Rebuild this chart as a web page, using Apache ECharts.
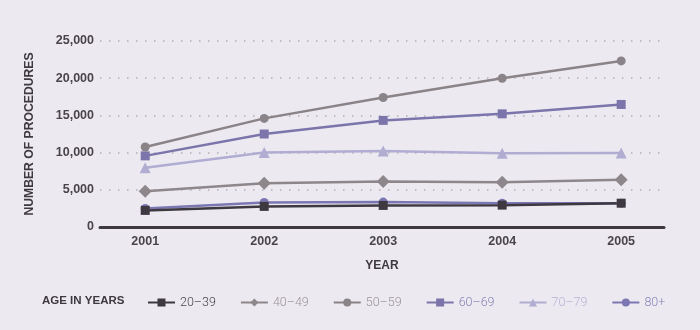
<!DOCTYPE html>
<html>
<head>
<meta charset="utf-8">
<script src="https://cdn.jsdelivr.net/npm/echarts@6/dist/echarts.min.js"></script>
<style>
  html, body { margin: 0; padding: 0; background: #eceaf0; }
  #chart { width: 700px; height: 330px; }
</style>
</head>
<body>
<div id="chart"></div>
<script>
// Procedures per year, by age group
const years = [2001, 2002, 2003, 2004, 2005];
const yTicks = [0, 5000, 10000, 15000, 20000, 25000];

const age20to39 = [2230, 2770, 2900, 2940, 3200];
const age40to49 = [4820, 5890, 6110, 6020, 6340];
const age50to59 = [10760, 14600, 17410, 20000, 22320];
const age60to69 = [9560, 12500, 14330, 15210, 16470];
const age70to79 = [7950, 10000, 10230, 9920, 9960];
const age80plus = [2500, 3300, 3350, 3200, 3200];

const groups = [
  { name: '20\u201339', values: age20to39, color: '#3e3840', text: '#4a444c', symbol: 'rect', size: 9 },
  { name: '40\u201349', values: age40to49, color: '#8d868b', text: '#9a9398', symbol: 'diamond', size: 13 },
  { name: '50\u201359', values: age50to59, color: '#8a8388', text: '#9a9398', symbol: 'circle', size: 9 },
  { name: '60\u201369', values: age60to69, color: '#7b75ab', text: '#8882b6', symbol: 'rect', size: 9 },
  { name: '70\u201379', values: age70to79, color: '#b0acd2', text: '#b6b2d6', symbol: 'triangle', size: 11 },
  { name: '80+', values: age80plus, color: '#7a77b2', text: '#8884bb', symbol: 'circle', size: 9 }
];

// draw the youngest group last so its markers sit on top
const drawOrder = [5, 4, 3, 2, 1, 0];

const series = drawOrder.map(i => {
  const g = groups[i];
  return {
    name: g.name,
    type: 'line',
    data: years.map((y, k) => [y, g.values[k]]),
    symbol: g.symbol,
    symbolSize: g.size,
    showSymbol: true,
    color: g.color,
    lineStyle: { color: g.color, width: 2.5 },
    itemStyle: { color: g.color },
    emphasis: { disabled: true },
    animation: false
  };
});

const chart = echarts.init(document.getElementById('chart'), null, { renderer: 'canvas' });

chart.setOption({
  backgroundColor: '#eceaf0',
  animation: false,
  grid: { left: 100, right: 36, top: 41, bottom: 103 },
  xAxis: {
    type: 'value',
    min: 2000.62,
    max: 2005.36,
    name: 'YEAR',
    nameLocation: 'middle',
    nameGap: 33,
    nameTextStyle: { fontFamily: 'Liberation Sans', fontWeight: 'bold', fontSize: 12, color: '#3e3840' },
    axisLine: { show: true, lineStyle: { color: '#3e3840', width: 3 } },
    axisTick: { show: false },
    splitLine: { show: false },
    axisLabel: {
      customValues: years,
      formatter: v => String(v),
      margin: 8,
      fontFamily: 'Liberation Sans',
      fontWeight: 'bold',
      fontSize: 12.5,
      color: '#4a444a'
    }
  },
  yAxis: {
    type: 'value',
    min: yTicks[0],
    max: yTicks[yTicks.length - 1],
    interval: yTicks[1] - yTicks[0],
    name: 'NUMBER OF PROCEDURES',
    nameLocation: 'middle',
    nameRotate: 90,
    nameGap: 64,
    nameTextStyle: { fontFamily: 'Liberation Sans', fontWeight: 'bold', fontSize: 12.2, color: '#3e3840' },
    axisLine: { show: false },
    axisTick: { show: false },
    axisLabel: {
      margin: 6,
      fontFamily: 'Liberation Sans',
      fontWeight: 'bold',
      fontSize: 12.5,
      color: '#4a444a',
      formatter: v => v.toLocaleString('en-US')
    },
    splitLine: {
      show: true,
      lineStyle: { color: '#b3aeb6', width: 1.5, type: [1.5, 7.5] }
    }
  },
  legend: {
    left: 147,
    top: 296,
    padding: 0,
    itemWidth: 27,
    itemHeight: 10,
    itemGap: 24,
    selectedMode: false,
    data: groups.map(g => ({
      name: g.name,
      textStyle: { color: g.text }
    })),
    textStyle: { fontFamily: 'Roboto', fontWeight: 300, fontSize: 12.5 }
  },
  graphic: [{
    type: 'text',
    left: 42,
    top: 295,
    style: {
      text: 'AGE IN YEARS',
      fontFamily: 'Liberation Sans',
      fontWeight: 'bold',
      fontSize: 11.5,
      fill: '#3e3840',
      lineHeight: 12
    }
  }],
  series: series
});
</script>
</body>
</html>
